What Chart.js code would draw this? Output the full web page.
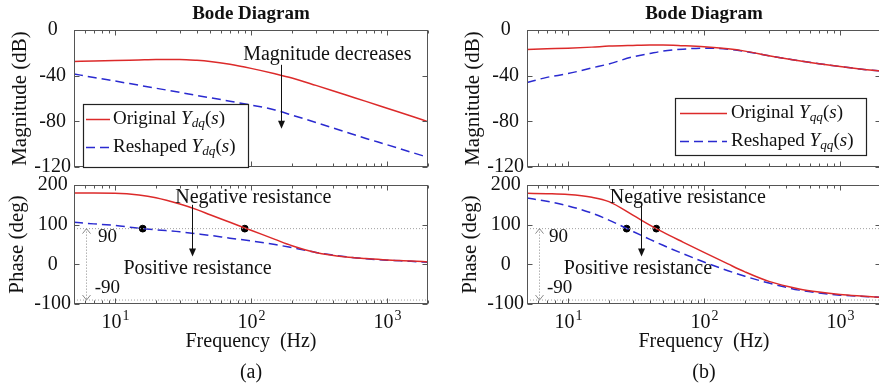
<!DOCTYPE html>
<html>
<head>
<meta charset="utf-8">
<script src="https://cdn.jsdelivr.net/npm/chart.js@4.4.1/dist/chart.umd.min.js"></script>
<style>
html, body { margin: 0; padding: 0; background: #fff; width: 879px; height: 384px; overflow: hidden; }
canvas { position: absolute; }
</style>
</head>
<body>
<canvas id="mag-a" width="440" height="185" style="left:0;top:0"></canvas>
<canvas id="phase-a" width="440" height="214" style="left:0;top:170px"></canvas>
<canvas id="mag-b" width="440" height="185" style="left:453px;top:0"></canvas>
<canvas id="phase-b" width="440" height="214" style="left:453px;top:170px"></canvas>
<script>
// frequency points (Hz) the curves were read at
const freq = [5, 7, 10, 15, 20, 30, 40, 50, 70, 100, 150, 200, 300, 500, 700, 1000, 1500, 2000];

// (a) Ydq
const magOrigDq   = [-27.5, -27.2, -26.8, -26.2, -25.8, -25.8, -26.5, -27.5, -30, -33.6, -38.3, -42, -48.5, -57, -62.5, -68.5, -75.3, -80.3];
const magReshDq   = [-38.5, -41.6, -44.7, -48.4, -51, -54.6, -57.3, -59.3, -62.4, -65.7, -70, -74.5, -81, -89.5, -95, -100.5, -107, -111.5];
const phaseOrigDq = [180, 180, 179.5, 175, 168, 152, 138, 125, 106, 86, 63, 47, 30, 18.5, 14.5, 11, 8.5, 6];
const phaseReshDq = [106, 102, 98, 91, 87, 82, 77, 73, 66, 59, 50, 42, 30, 19, 14, 10.5, 7.5, 5];
const crossDq = [16, 90];

// (b) Yqq
const magOrigQq   = [-17.1, -16.5, -15.9, -15, -14.1, -13.5, -13.2, -13.2, -13.8, -14.7, -16.5, -18.5, -22.5, -27, -29.5, -32, -34.5, -36];
const magReshQq   = [-46, -41.5, -38.2, -33.2, -29.7, -23.5, -20.6, -18.5, -16.8, -15.9, -16.8, -18.7, -22.5, -27, -29.5, -32, -34.5, -36];
const phaseOrigQq = [179, 178, 176, 169, 158, 124, 99, 81, 56, 30, 1, -19, -43, -62, -70, -76, -80.5, -83.5];
const phaseReshQq = [167, 159, 147.5, 129, 111.6, 83, 63, 48, 26.8, 5.9, -16, -30, -47.2, -65, -72.3, -77.7, -81.2, -83.3];
const crossQq = [27, 44.6];

const xTickValues = [5, 6, 7, 8, 9, 10, 20, 30, 40, 50, 60, 70, 80, 90, 100, 200, 300, 400, 500, 600, 700, 800, 900, 1000, 2000];
const decadeTicks = [10, 100, 1000];
const decadePowers = ['1', '2', '3'];

const RED = '#dc2a2a';
const BLUE = '#2a2ad0';
const SERIF = "'Liberation Serif', 'Times New Roman', serif";

Chart.defaults.font.family = SERIF;
Chart.defaults.color = '#111';

function points(ys) {
    return freq.map(function (f, i) { return {x: f, y: ys[i]}; });
}

function curve(ys, color, dash, legend) {
    return {
        data: points(ys), showLine: true, borderColor: color, borderWidth: 1.5,
        borderDash: dash, pointRadius: 0, cubicInterpolationMode: 'monotone', legend: legend
    };
}

function refLine(y) {
    return {
        data: [{x: 5, y: y}, {x: 2000, y: y}], showLine: true, borderColor: '#a0a0a0',
        borderWidth: 1, borderDash: [1, 2], pointRadius: 0
    };
}

function dots(fs) {
    return {
        data: fs.map(function (f) { return {x: f, y: 90}; }), showLine: false,
        pointRadius: 3.4, backgroundColor: '#000', borderColor: '#000'
    };
}

function axisX(show) {
    return {
        type: 'logarithmic', min: 5, max: 2000, display: show,
        afterBuildTicks: function (s) { s.ticks = xTickValues.map(function (v) { return {value: v}; }); },
        afterFit: function (s) { if (show) s.height = 80; },
        grid: {display: false, drawTicks: false},
        border: {display: false},
        // the 10^n labels are drawn by the frame plugin (superscripts)
        ticks: {display: false},
        title: {display: show, text: 'Frequency  (Hz)', font: {size: 20}, padding: {top: 0, bottom: 30}}
    };
}

function axisY(min, max, step, title, pad) {
    return {
        min: min, max: max,
        afterFit: function (s) { s.width = 74; },
        grid: {display: false, drawTicks: false},
        border: {display: false},
        ticks: {stepSize: step, autoSkip: false, crossAlign: 'center', padding: 3, font: {size: 20}},
        title: {display: true, text: title, font: {size: 21}, padding: {top: pad, bottom: 0}}
    };
}

// box around the plot with inward ticks, like the matlab axes
const framePlugin = {
    id: 'frame',
    afterDraw: function (chart) {
        const ctx = chart.ctx, a = chart.chartArea, sx = chart.scales.x, sy = chart.scales.y;
        const l = Math.round(a.left) + 0.5, r = Math.round(a.right) - 0.5;
        const t = Math.round(a.top) + 0.5, b = Math.round(a.bottom) - 0.5;
        ctx.save();
        ctx.strokeStyle = '#555';
        ctx.lineWidth = 1;
        ctx.beginPath();
        xTickValues.forEach(function (v) {
            const px = Math.round(sx.getPixelForValue(v)) + 0.5;
            const len = decadeTicks.indexOf(v) >= 0 ? 5 : 3;
            ctx.moveTo(px, b); ctx.lineTo(px, b - len);
            ctx.moveTo(px, t); ctx.lineTo(px, t + len);
        });
        sy.ticks.forEach(function (tk) {
            const py = Math.round(sy.getPixelForValue(tk.value)) + 0.5;
            ctx.moveTo(l, py); ctx.lineTo(l + 5, py);
            ctx.moveTo(r, py); ctx.lineTo(r - 5, py);
        });
        ctx.stroke();
        ctx.strokeRect(l, t, r - l, b - t);

        if (sx.options.display) {
            ctx.fillStyle = '#111';
            ctx.textBaseline = 'alphabetic';
            ctx.textAlign = 'left';
            decadeTicks.forEach(function (v, i) {
                ctx.font = '20px ' + SERIF;
                const w1 = ctx.measureText('10').width;
                ctx.font = '14px ' + SERIF;
                const w2 = ctx.measureText(decadePowers[i]).width;
                const x0 = sx.getPixelForValue(v) - (w1 + w2) / 2;
                ctx.font = '20px ' + SERIF;
                ctx.fillText('10', x0, a.bottom + 24);
                ctx.font = '14px ' + SERIF;
                ctx.fillText(decadePowers[i], x0 + w1 + 1, a.bottom + 16);
            });
        }
        ctx.restore();
    }
};

function drawRich(ctx, x, y, pieces, size) {
    pieces.forEach(function (p) {
        const fs = p.sub ? size * 0.7 : size;
        ctx.font = (p.italic ? 'italic ' : '') + fs + 'px ' + SERIF;
        ctx.fillText(p.t, x, y + (p.sub ? 5 : 0));
        x += ctx.measureText(p.t).width;
    });
}

function legendPlugin(box, rows, lineX, textX, sub) {
    return {
        id: 'richLegend',
        afterDraw: function (chart) {
            const ctx = chart.ctx;
            ctx.save();
            ctx.fillStyle = '#fff';
            ctx.fillRect(box.x, box.y, box.w, box.h);
            ctx.strokeStyle = '#222';
            ctx.lineWidth = 1.2;
            ctx.strokeRect(box.x + 0.5, box.y + 0.5, box.w, box.h);
            const items = chart.data.datasets.filter(function (d) { return d.legend; });
            items.forEach(function (d, i) {
                const y = rows[i];
                ctx.strokeStyle = d.borderColor;
                ctx.lineWidth = d.borderWidth;
                ctx.setLineDash(d.borderDash || []);
                ctx.beginPath();
                ctx.moveTo(lineX[0], y + 0.5);
                ctx.lineTo(lineX[1], y + 0.5);
                ctx.stroke();
                ctx.setLineDash([]);
                ctx.fillStyle = '#111';
                ctx.textBaseline = 'middle';
                ctx.textAlign = 'left';
                drawRich(ctx, textX, y, [
                    {t: d.legend + ' '}, {t: 'Y', italic: true}, {t: sub, italic: true, sub: true},
                    {t: '('}, {t: 's', italic: true}, {t: ')'}
                ], 19);
            });
            ctx.restore();
        }
    };
}

// text and arrows placed in data coordinates
function notesPlugin(spec) {
    return {
        id: 'notes',
        afterDatasetsDraw: function (chart) {
            const ctx = chart.ctx, a = chart.chartArea, sx = chart.scales.x, sy = chart.scales.y;
            ctx.save();
            ctx.fillStyle = '#111';
            ctx.textBaseline = 'middle';
            if (spec.title) {
                ctx.font = 'bold 19px ' + SERIF;
                ctx.textAlign = 'center';
                ctx.fillText(spec.title, (a.left + a.right) / 2, 14);
            }
            if (spec.caption) {
                ctx.font = '20px ' + SERIF;
                ctx.textAlign = 'center';
                ctx.fillText(spec.caption, (a.left + a.right) / 2, 203);
            }
            (spec.texts || []).forEach(function (n) {
                ctx.font = (n.size || 20) + 'px ' + SERIF;
                ctx.textAlign = n.align || 'center';
                ctx.fillText(n.t, sx.getPixelForValue(n.x), sy.getPixelForValue(n.y));
            });
            (spec.arrows || []).forEach(function (ar) {
                const x = Math.round(sx.getPixelForValue(ar.x)) + 0.5;
                const y1 = sy.getPixelForValue(ar.y1), y2 = sy.getPixelForValue(ar.y2);
                ctx.strokeStyle = '#111';
                ctx.lineWidth = 1;
                ctx.beginPath();
                ctx.moveTo(x, y1); ctx.lineTo(x, y2 - 7);
                ctx.stroke();
                ctx.beginPath();
                ctx.moveTo(x - 3.5, y2 - 8); ctx.lineTo(x + 3.5, y2 - 8); ctx.lineTo(x, y2);
                ctx.closePath();
                ctx.fill();
            });
            if (spec.span) {
                const x = Math.round(sx.getPixelForValue(spec.span.x)) + 0.5;
                const y1 = sy.getPixelForValue(spec.span.y1), y2 = sy.getPixelForValue(spec.span.y2);
                ctx.strokeStyle = '#8a8a8a';
                ctx.lineWidth = 1;
                ctx.setLineDash([1, 2]);
                ctx.beginPath();
                ctx.moveTo(x, y1); ctx.lineTo(x, y2);
                ctx.stroke();
                ctx.setLineDash([]);
                ctx.beginPath();
                ctx.moveTo(x - 4, y1 + 5); ctx.lineTo(x, y1); ctx.lineTo(x + 4, y1 + 5);
                ctx.moveTo(x - 4, y2 - 5); ctx.lineTo(x, y2); ctx.lineTo(x + 4, y2 - 5);
                ctx.stroke();
            }
            ctx.restore();
        }
    };
}

function magChart(id, orig, resh, legend, notes) {
    return new Chart(document.getElementById(id), {
        type: 'scatter',
        data: {datasets: [curve(orig, RED, [], 'Original'), curve(resh, BLUE, [9, 5], 'Reshaped')]},
        options: {
            responsive: false, animation: false, devicePixelRatio: 1,
            layout: {padding: {top: 30, right: 12, bottom: 18, left: 0}},
            plugins: {legend: {display: false}, tooltip: {enabled: false}},
            scales: {x: axisX(false), y: axisY(-120, 0, 40, 'Magnitude (dB)', 8)}
        },
        plugins: [framePlugin, notesPlugin(notes), legend]
    });
}

function phaseChart(id, orig, resh, cross, notes) {
    return new Chart(document.getElementById(id), {
        type: 'scatter',
        data: {datasets: [refLine(90), refLine(-90), curve(orig, RED, []), curve(resh, BLUE, [9, 5]), dots(cross)]},
        options: {
            responsive: false, animation: false, devicePixelRatio: 1,
            layout: {padding: {top: 7, right: 12, bottom: 0, left: 0}},
            plugins: {legend: {display: false}, tooltip: {enabled: false}},
            scales: {x: axisX(true), y: axisY(-100, 200, 100, 'Phase (deg)', 5)}
        },
        plugins: [framePlugin, notesPlugin(notes)]
    });
}

magChart('mag-a', magOrigDq, magReshDq,
    legendPlugin({x: 83, y: 104, w: 165, h: 63}, [119, 147], [86, 110], 113, 'dq'),
    {
        title: 'Bode Diagram',
        texts: [{t: 'Magnitude decreases', x: 364, y: -21.9}],
        arrows: [{x: 167, y1: -30.5, y2: -86.5}]
    });

phaseChart('phase-a', phaseOrigDq, phaseReshDq, crossDq, {
    caption: '(a)',
    texts: [
        {t: 'Negative resistance', x: 104, y: 167},
        {t: 'Positive resistance', x: 40.5, y: -10},
        {t: '90', x: 7.5, y: 68, align: 'left', size: 19},
        {t: '-90', x: 7.1, y: -60, align: 'left', size: 19}
    ],
    arrows: [{x: 36.6, y1: 150, y2: 20}],
    span: {x: 6.1, y1: 90, y2: -90}
});

magChart('mag-b', magOrigQq, magReshQq,
    legendPlugin({x: 222, y: 98, w: 191, h: 57}, [113, 141], [227, 274], 278, 'qq'),
    {title: 'Bode Diagram'});

phaseChart('phase-b', phaseOrigQq, phaseReshQq, crossQq, {
    caption: '(b)',
    texts: [
        {t: 'Negative resistance', x: 76, y: 167},
        {t: 'Positive resistance', x: 32.7, y: -10},
        {t: '90', x: 7.25, y: 68, align: 'left', size: 19},
        {t: '-90', x: 7.0, y: -60, align: 'left', size: 19}
    ],
    arrows: [{x: 34.6, y1: 150, y2: 20}],
    span: {x: 6.1, y1: 90, y2: -90}
});
</script>
</body>
</html>
